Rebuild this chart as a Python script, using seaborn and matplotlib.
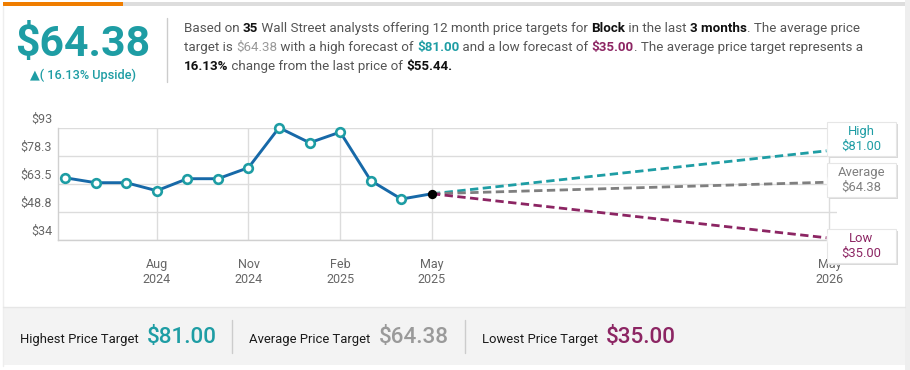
import numpy as np
import pandas as pd
import matplotlib
matplotlib.use("Agg")
import matplotlib.pyplot as plt
import seaborn as sns
from matplotlib.patches import Rectangle, Polygon
from matplotlib.lines import Line2D
from matplotlib.transforms import IdentityTransform, ScaledTranslation

# ---------------------------------------------------------------------
# Data
# ---------------------------------------------------------------------
month_index = list(range(13))  # May 2024 .. May 2025
closing_prices = [66.7, 64.1, 64.1, 59.9, 66.2, 66.2, 72.0, 93.0, 85.1, 90.7, 65.2, 55.5, 58.3]
target_month = 25
target_names = ['High', 'Average', 'Low']
target_values = [81.00, 64.38, 35.00]
y_ticks = [34, 48.75, 63.5, 78.25, 93]
y_tick_labels = ['$34', '$48.8', '$63.5', '$78.3', '$93']
x_ticks = [3, 6, 9, 12, 25]
x_tick_labels = ['Aug\n2024', 'Nov\n2024', 'Feb\n2025', 'May\n2025', 'May\n2026']

TEAL = '#1e9da4'
BLUE = '#1769a8'
GREY = '#7f7f7f'
PURPLE = '#8c2563'
TXT = '#555555'
target_colors = [TEAL, GREY, PURPLE]

# ---------------------------------------------------------------------
# Figure / theme
# ---------------------------------------------------------------------
sns.set_theme(style="white")
plt.rcParams['font.family'] = ['Roboto', 'DejaVu Sans']

W, H = 910, 370
fig = plt.figure(figsize=(W / 100, H / 100), dpi=100)
fig.patch.set_facecolor('white')
PX = IdentityTransform()


def yy(y):  # top-based pixel -> display
    return H - y


def rect(x0, y0, x1, y1, color, z=0, **kw):
    fig.patches.append(Rectangle((x0, yy(y1)), x1 - x0, y1 - y0, transform=PX,
                                 facecolor=color, edgecolor=kw.pop('ec', 'none'),
                                 linewidth=kw.pop('lw', 0), zorder=z, **kw))


def vline(x, y0, y1, color='#cccccc', lw=1):
    fig.lines.append(Line2D([x, x], [yy(y0), yy(y1)], transform=PX, color=color, linewidth=lw))


# card frame
rect(905, 0, 910, 370, '#eeeeee')
vline(2.5, 6, 366, '#eeeeee')
rect(3, 2, 123, 6, '#ef7d00')
rect(123, 2, 905, 6, '#dddddd')

# ---------------------------------------------------------------------
# Header
# ---------------------------------------------------------------------
fig.text(82.5 / W, 1 - 56 / H, '$64.38', color=TEAL, fontsize=30.8, fontweight='bold',
         ha='center', va='baseline')
fig.text(82.5 / W, 1 - 79 / H, '▲( 16.13% Upside)', color=TEAL, fontsize=9.2,
         fontweight='medium', ha='center', va='baseline')
vline(167, 18, 82)

renderer = fig.canvas.get_renderer()


def text_width(s, size, weight):
    t = fig.text(0, 0, 'x' + s + 'x', fontsize=size, fontweight=weight)
    r = fig.text(0, 0, 'xx', fontsize=size, fontweight=weight)
    w = t.get_window_extent(renderer).width - r.get_window_extent(renderer).width
    t.remove()
    r.remove()
    return w


def draw_runs(x, y, runs, size):
    for s, color, weight in runs:
        fig.text(x / W, 1 - y / H, s, color=color, fontsize=size, fontweight=weight,
                 ha='left', va='baseline')
        x += text_width(s, size, weight)


para = [
    [('Based on ', TXT, 'normal'), ('35', '#111111', 'bold'),
     (' Wall Street analysts offering 12 month price targets for ', TXT, 'normal'),
     ('Block', '#111111', 'bold'), (' in the last ', TXT, 'normal'),
     ('3 months', '#111111', 'bold'), ('. The average price', TXT, 'normal')],
    [('target is ', TXT, 'normal'), ('$64.38', '#999999', 'normal'),
     (' with a high forecast of ', TXT, 'normal'), ('$81.00', TEAL, 'bold'),
     (' and a low forecast of ', TXT, 'normal'), ('$35.00', PURPLE, 'bold'),
     ('. The average price target represents a', TXT, 'normal')],
    [('16.13%', '#111111', 'bold'), (' change from the last price of ', TXT, 'normal'),
     ('$55.44.', '#111111', 'bold')],
]
for i, line in enumerate(para):
    draw_runs(184, 32 + 19 * i, line, 9.6)

# ---------------------------------------------------------------------
# Chart
# ---------------------------------------------------------------------
ax_l, ax_r, ax_t, ax_b = 57.7, 836.7, 127.7, 240
ax = fig.add_axes([ax_l / W, 1 - ax_b / H, (ax_r - ax_l) / W, (ax_b - ax_t) / H])
ax.set_facecolor('none')

hist = pd.DataFrame({'month': month_index, 'price': closing_prices})
last_m, last_p = month_index[-1], closing_prices[-1]

for name, val, col in zip(target_names, target_values, target_colors):
    sns.lineplot(x=[last_m, target_month], y=[last_p, val], ax=ax, color=col,
                 linewidth=2, linestyle='--', zorder=3)
    ax.lines[-1].set_dashes([3, 1.6])

sns.lineplot(data=hist, x='month', y='price', ax=ax, color=BLUE, linewidth=2.1,
             marker='o', markersize=6.2, markerfacecolor='white', markeredgecolor=TEAL,
             markeredgewidth=1.9, markevery=list(range(len(month_index) - 1)),
             clip_on=False, zorder=4)
sns.scatterplot(x=[last_m], y=[last_p], ax=ax, color='black', s=45, linewidth=0,
                zorder=5, clip_on=False)

ax.set_xlim(-0.24, 25.24)
ax.set_ylim(34, 93)
ax.set_xticks(x_ticks)
ax.set_xticklabels(x_tick_labels, color='#666666', fontsize=9, linespacing=1.15)
ax.set_yticks(y_ticks)
ax.set_yticklabels(y_tick_labels, color='#666666', fontsize=9)
ax.tick_params(axis='both', length=0)
ax.tick_params(axis='x', pad=13)
ax.tick_params(axis='y', pad=4)
for lab in ax.get_yticklabels():
    lab.set_transform(lab.get_transform() + ScaledTranslation(0, 0.10, fig.dpi_scale_trans))
ax.grid(True, color='#dcdcdc', linewidth=1)
ax.set_axisbelow(True)
for side in ['top', 'right']:
    ax.spines[side].set_visible(False)
for side in ['left', 'bottom']:
    ax.spines[side].set_color('#d0d0d0')
    ax.spines[side].set_linewidth(1)
ax.set_xlabel('')
ax.set_ylabel('')

# callout boxes at the end of the forecast lines
box_tops = [122, 163, 229]
bx0, bx1, bh = 827, 896, 34
for name, val, col, top in zip(target_names, target_values, target_colors, box_tops):
    ex, ey = ax.transData.transform((target_month, val))
    rect(bx0 + 1.5, top + 2, bx1 + 1.5, top + bh + 2, '#d9d9d9', z=6)
    rect(bx0, top, bx1, top + bh, 'white', z=7, ec='#e6e6e6', lw=0.8)
    py = min(max(H - ey, top + 7), top + bh - 7)
    fig.patches.append(Polygon([(bx0 + 0.5, yy(py - 6)), (ex - 3, ey), (bx0 + 0.5, yy(py + 6))],
                               closed=True, transform=PX, facecolor='white',
                               edgecolor='none', zorder=8))
    fig.text((bx0 + bx1) / 2 / W, 1 - (top + bh / 2) / H, f'{name}\n${val:.2f}', color=col,
             fontsize=9.4, ha='center', va='center', linespacing=1.2, zorder=9)

# ---------------------------------------------------------------------
# Footer
# ---------------------------------------------------------------------
rect(3, 307, 905, 365, '#f3f3f3')
fig.lines.append(Line2D([3, 905], [yy(307), yy(307)], transform=PX, color='#e6e6e6', linewidth=1))
footer = [('Highest Price Target', 20, '$81.00', TEAL),
          ('Average Price Target', 249, '$64.38', '#9a9a9a'),
          ('Lowest Price Target', 482, '$35.00', PURPLE)]
for label, x0, value, col in footer:
    fig.text(x0 / W, 1 - 342.7 / H, label, color='#1a1a1a', fontsize=9.4, ha='left', va='baseline')
    lw_ = text_width(label, 9.4, 'normal')
    fig.text((x0 + lw_ + 8) / W, 1 - 342.7 / H, value, color=col, fontsize=16.2,
             fontweight='medium', ha='left', va='baseline')
vline(232.3, 320, 353)
vline(465, 320, 353)

fig.savefig('out.png', dpi=100, facecolor='white')
